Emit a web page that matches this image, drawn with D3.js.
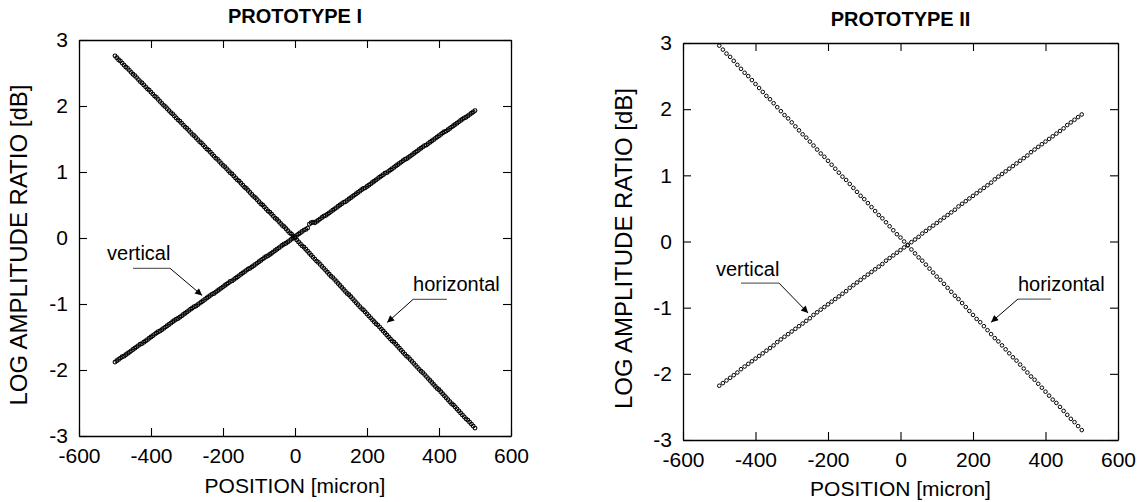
<!DOCTYPE html>
<html><head><meta charset="utf-8">
<script src="https://cdn.jsdelivr.net/npm/d3@7"></script>
<style>
html,body{margin:0;padding:0;background:#fff;}
text{font-family:"Liberation Sans",Arial,Helvetica,sans-serif;fill:#000;}
</style></head>
<body>
<svg id="chart" width="1141" height="502"></svg>
<script>
// ---------- DATA ----------
const titles = ["PROTOTYPE I", "PROTOTYPE II"];
const xLabel = "POSITION [micron]";
const yLabel = "LOG AMPLITUDE RATIO [dB]";
const xTicks = [-600, -400, -200, 0, 200, 400, 600];
const yTicks = [-3, -2, -1, 0, 1, 2, 3];
const seriesNames = ["vertical", "horizontal"];

// Prototype I positions (micron)
const p1X = [-500,-495,-490,-485,-480,-475,-470,-465,-460,-455,-450,-445,-440,-435,-430,-425,-420,-415,-410,-405,
-400,-395,-390,-385,-380,-375,-370,-365,-360,-355,-350,-345,-340,-335,-330,-325,-320,-315,-310,-305,
-300,-295,-290,-285,-280,-275,-270,-265,-260,-255,-250,-245,-240,-235,-230,-225,-220,-215,-210,-205,
-200,-195,-190,-185,-180,-175,-170,-165,-160,-155,-150,-145,-140,-135,-130,-125,-120,-115,-110,-105,
-100,-95,-90,-85,-80,-75,-70,-65,-60,-55,-50,-45,-40,-35,-30,-25,-20,-15,-10,-5,
0,5,10,15,20,25,30,35,40,45,50,55,60,65,70,75,80,85,90,95,
100,105,110,115,120,125,130,135,140,145,150,155,160,165,170,175,180,185,190,195,
200,205,210,215,220,225,230,235,240,245,250,255,260,265,270,275,280,285,290,295,
300,305,310,315,320,325,330,335,340,345,350,355,360,365,370,375,380,385,390,395,
400,405,410,415,420,425,430,435,440,445,450,455,460,465,470,475,480,485,490,495,500];
// Prototype I, horizontal (dB)
const p1Horizontal = [2.76,2.73,2.70,2.68,2.65,2.62,2.59,2.57,2.54,2.51,2.48,2.46,2.43,2.40,2.37,2.35,2.32,2.29,2.26,2.24,
2.21,2.18,2.15,2.13,2.10,2.07,2.04,2.01,1.99,1.96,1.93,1.90,1.88,1.85,1.82,1.79,1.77,1.74,1.71,1.68,
1.66,1.63,1.60,1.57,1.55,1.52,1.49,1.46,1.44,1.41,1.38,1.35,1.33,1.30,1.27,1.24,1.21,1.19,1.16,1.13,
1.10,1.08,1.05,1.02,0.99,0.97,0.94,0.91,0.88,0.86,0.83,0.80,0.77,0.75,0.72,0.69,0.66,0.63,0.61,0.58,
0.55,0.52,0.50,0.47,0.44,0.41,0.39,0.36,0.33,0.30,0.28,0.25,0.22,0.19,0.17,0.14,0.11,0.08,0.06,0.03,
0.00,-0.03,-0.06,-0.09,-0.12,-0.14,-0.17,-0.20,-0.23,-0.26,-0.29,-0.32,-0.35,-0.37,-0.40,-0.43,-0.46,-0.49,-0.52,-0.55,
-0.58,-0.60,-0.63,-0.66,-0.69,-0.72,-0.75,-0.78,-0.81,-0.84,-0.86,-0.89,-0.92,-0.95,-0.98,-1.01,-1.04,-1.07,-1.09,-1.12,
-1.15,-1.18,-1.21,-1.24,-1.27,-1.30,-1.32,-1.35,-1.38,-1.41,-1.44,-1.47,-1.50,-1.53,-1.56,-1.58,-1.61,-1.64,-1.67,-1.70,
-1.73,-1.76,-1.79,-1.81,-1.84,-1.87,-1.90,-1.93,-1.96,-1.99,-2.02,-2.04,-2.07,-2.10,-2.13,-2.16,-2.19,-2.22,-2.25,-2.28,
-2.30,-2.33,-2.36,-2.39,-2.42,-2.45,-2.48,-2.51,-2.53,-2.56,-2.59,-2.62,-2.65,-2.68,-2.71,-2.74,-2.76,-2.79,-2.82,-2.85,-2.88];
// Prototype I, vertical (dB)
const p1Vertical = [-1.88,-1.86,-1.84,-1.82,-1.80,-1.79,-1.77,-1.75,-1.73,-1.71,-1.69,-1.67,-1.65,-1.63,-1.61,-1.60,-1.58,-1.56,-1.54,-1.52,
-1.50,-1.48,-1.46,-1.44,-1.42,-1.41,-1.39,-1.37,-1.35,-1.33,-1.31,-1.29,-1.27,-1.25,-1.23,-1.22,-1.20,-1.18,-1.16,-1.14,
-1.12,-1.10,-1.08,-1.06,-1.04,-1.03,-1.01,-0.99,-0.97,-0.95,-0.93,-0.91,-0.89,-0.87,-0.85,-0.84,-0.82,-0.80,-0.78,-0.76,
-0.74,-0.72,-0.70,-0.68,-0.66,-0.65,-0.63,-0.61,-0.59,-0.57,-0.55,-0.53,-0.51,-0.49,-0.47,-0.46,-0.44,-0.42,-0.40,-0.38,
-0.36,-0.34,-0.32,-0.30,-0.28,-0.27,-0.25,-0.23,-0.21,-0.19,-0.17,-0.15,-0.13,-0.11,-0.09,-0.08,-0.06,-0.04,-0.02,0.00,
0.02,0.04,0.06,0.08,0.10,0.12,0.13,0.15,0.21,0.23,0.24,0.23,0.25,0.27,0.29,0.31,0.33,0.34,0.36,0.38,
0.40,0.42,0.44,0.46,0.48,0.50,0.52,0.54,0.55,0.57,0.59,0.61,0.63,0.65,0.67,0.69,0.71,0.73,0.75,0.76,
0.78,0.80,0.82,0.84,0.86,0.88,0.90,0.92,0.94,0.96,0.98,0.99,1.01,1.03,1.05,1.07,1.09,1.11,1.13,1.15,
1.17,1.19,1.20,1.22,1.24,1.26,1.28,1.30,1.32,1.34,1.36,1.38,1.40,1.41,1.43,1.45,1.47,1.49,1.51,1.53,
1.55,1.57,1.59,1.61,1.62,1.64,1.66,1.68,1.70,1.72,1.74,1.76,1.78,1.80,1.82,1.83,1.85,1.87,1.89,1.91,1.93];

// Prototype II positions (micron)
const p2X = [-500,-490,-480,-470,-460,-450,-440,-430,-420,-410,-400,-390,-380,-370,-360,-350,-340,-330,-320,-310,
-300,-290,-280,-270,-260,-250,-240,-230,-220,-210,-200,-190,-180,-170,-160,-150,-140,-130,-120,-110,
-100,-90,-80,-70,-60,-50,-40,-30,-20,-10,0,10,20,30,40,50,60,70,80,90,
100,110,120,130,140,150,160,170,180,190,200,210,220,230,240,250,260,270,280,290,
300,310,320,330,340,350,360,370,380,390,400,410,420,430,440,450,460,470,480,490,500];
// Prototype II, horizontal (dB)
const p2Horizontal = [2.96,2.90,2.84,2.79,2.73,2.67,2.61,2.55,2.50,2.44,2.38,2.32,2.26,2.20,2.15,2.09,2.03,1.97,1.91,1.86,
1.80,1.74,1.68,1.62,1.57,1.51,1.45,1.39,1.33,1.28,1.22,1.16,1.10,1.04,0.98,0.93,0.87,0.81,0.75,0.69,
0.64,0.58,0.52,0.46,0.40,0.35,0.29,0.23,0.17,0.11,0.06,0.00,-0.06,-0.12,-0.18,-0.24,-0.29,-0.35,-0.41,-0.47,
-0.53,-0.58,-0.64,-0.70,-0.76,-0.82,-0.87,-0.93,-0.99,-1.05,-1.11,-1.17,-1.22,-1.28,-1.34,-1.40,-1.46,-1.51,-1.57,-1.63,
-1.69,-1.75,-1.80,-1.86,-1.92,-1.98,-2.04,-2.09,-2.15,-2.21,-2.27,-2.33,-2.39,-2.44,-2.50,-2.56,-2.62,-2.68,-2.73,-2.79,-2.85];
// Prototype II, vertical (dB)
const p2Vertical = [-2.18,-2.14,-2.10,-2.06,-2.02,-1.98,-1.93,-1.89,-1.85,-1.81,-1.77,-1.73,-1.69,-1.65,-1.61,-1.57,-1.52,-1.48,-1.44,-1.40,
-1.36,-1.32,-1.28,-1.24,-1.20,-1.16,-1.11,-1.07,-1.03,-0.99,-0.95,-0.91,-0.87,-0.83,-0.79,-0.75,-0.70,-0.66,-0.62,-0.58,
-0.54,-0.50,-0.46,-0.42,-0.38,-0.34,-0.29,-0.25,-0.21,-0.17,-0.13,-0.09,-0.05,-0.01,0.03,0.07,0.12,0.16,0.20,0.24,
0.28,0.32,0.36,0.40,0.44,0.48,0.53,0.57,0.61,0.65,0.69,0.73,0.77,0.81,0.85,0.89,0.94,0.98,1.02,1.06,
1.10,1.14,1.18,1.22,1.26,1.30,1.35,1.39,1.43,1.47,1.51,1.55,1.59,1.63,1.67,1.71,1.76,1.80,1.84,1.88,1.92];

// Annotations (data coordinates): label anchor, leader start/end, arrow tip
const p1Notes = [
  {text: "vertical",   tx: -522, ty: -0.34, lx0: -450, lx1: -347, ly: -0.46, from: "right", ax: -258, ay: -0.87},
  {text: "horizontal", tx: 328,  ty: -0.81, lx0: 328,  lx1: 422,  ly: -0.93, from: "left",  ax: 256,  ay: -1.28}
];
const p2Notes = [
  {text: "vertical",   tx: -509, ty: -0.52, lx0: -440, lx1: -335, ly: -0.63, from: "right", ax: -255, ay: -1.08},
  {text: "horizontal", tx: 324,  ty: -0.75, lx0: 324,  lx1: 415,  ly: -0.87, from: "left",  ax: 250,  ay: -1.22}
];

// ---------- DRAW ----------
const svg = d3.select("#chart");
const defs = svg.append("defs");
defs.append("marker").attr("id", "arrow").attr("viewBox", "0 0 10 10")
  .attr("refX", 10).attr("refY", 5).attr("markerWidth", 12).attr("markerHeight", 7)
  .attr("markerUnits", "userSpaceOnUse").attr("orient", "auto")
  .append("path").attr("d", "M0,0 L10,5 L0,10 Z").attr("fill", "#000");

const fmt = d => String(d);

function panel(cfg) {
  const x = d3.scaleLinear().domain([-600, 600]).range([cfg.left, cfg.right]);
  const y = d3.scaleLinear().domain([-3, 3]).range([cfg.bottom, cfg.top]);
  const g = svg.append("g");

  // markers
  const series = [cfg.horizontal, cfg.vertical];
  series.forEach(vals => {
    g.append("g").selectAll("circle").data(cfg.xs.map((d, i) => [d, vals[i]]))
      .join("circle")
      .attr("cx", d => x(d[0])).attr("cy", d => y(d[1]))
      .attr("r", cfg.r).attr("fill", "none").attr("stroke", "#000").attr("stroke-width", cfg.sw);
  });

  // axes (inward ticks)
  const ax = (gen, tr) => g.append("g").attr("transform", tr).call(gen)
    .call(s => s.select(".domain").attr("stroke", "#000").attr("stroke-width", 1.3))
    .call(s => s.selectAll(".tick line").attr("stroke", "#000").attr("stroke-width", 1.1))
    .call(s => s.selectAll(".tick text").attr("font-size", 21).attr("font-family", "Liberation Sans, Arial, sans-serif").attr("fill", "#000"));

  ax(d3.axisBottom(x).tickValues(xTicks).tickSizeInner(-8).tickSizeOuter(0).tickPadding(12).tickFormat(fmt),
     `translate(0,${cfg.bottom})`);
  ax(d3.axisLeft(y).tickValues(yTicks).tickSizeInner(-8).tickSizeOuter(0).tickPadding(11).tickFormat(fmt),
     `translate(${cfg.left},0)`);
  ax(d3.axisTop(x).tickValues(xTicks).tickSizeInner(-8).tickSizeOuter(0).tickFormat(""),
     `translate(0,${cfg.top})`);
  ax(d3.axisRight(y).tickValues(yTicks).tickSizeInner(-8).tickSizeOuter(0).tickFormat(""),
     `translate(${cfg.right},0)`);

  // labels
  g.append("text").attr("x", (cfg.left + cfg.right) / 2).attr("y", cfg.titleY)
    .attr("text-anchor", "middle").attr("font-size", 20).attr("font-weight", "bold").text(cfg.title);
  g.append("text").attr("x", (cfg.left + cfg.right) / 2).attr("y", cfg.xLabY)
    .attr("text-anchor", "middle").attr("font-size", 21).text(xLabel);
  g.append("text").attr("transform", `translate(${cfg.yLabX},${(cfg.top + cfg.bottom) / 2 + 7}) rotate(-90)`)
    .attr("text-anchor", "middle").attr("dy", "0.35em").attr("font-size", 24).text(yLabel);

  // annotations
  cfg.notes.forEach(n => {
    g.append("text").attr("x", x(n.tx)).attr("y", y(n.ty)).attr("font-size", 20).text(n.text);
    g.append("line").attr("x1", x(n.lx0)).attr("x2", x(n.lx1)).attr("y1", y(n.ly)).attr("y2", y(n.ly))
      .attr("stroke", "#666").attr("stroke-width", 1.3);
    const sx = n.from === "right" ? x(n.lx1) : x(n.lx0);
    g.append("line").attr("x1", sx).attr("y1", y(n.ly)).attr("x2", x(n.ax)).attr("y2", y(n.ay))
      .attr("stroke", "#000").attr("stroke-width", 1).attr("marker-end", "url(#arrow)");
  });
}

panel({title: titles[0], left: 79, right: 511, top: 40, bottom: 436, titleY: 23, xLabY: 493, yLabX: 19,
       xs: p1X, horizontal: p1Horizontal, vertical: p1Vertical, notes: p1Notes, r: 1.9, sw: 1.1});
panel({title: titles[1], left: 683, right: 1118, top: 43, bottom: 440, titleY: 26, xLabY: 496, yLabX: 624,
       xs: p2X, horizontal: p2Horizontal, vertical: p2Vertical, notes: p2Notes, r: 1.8, sw: 1.0});
</script>
</body></html>
